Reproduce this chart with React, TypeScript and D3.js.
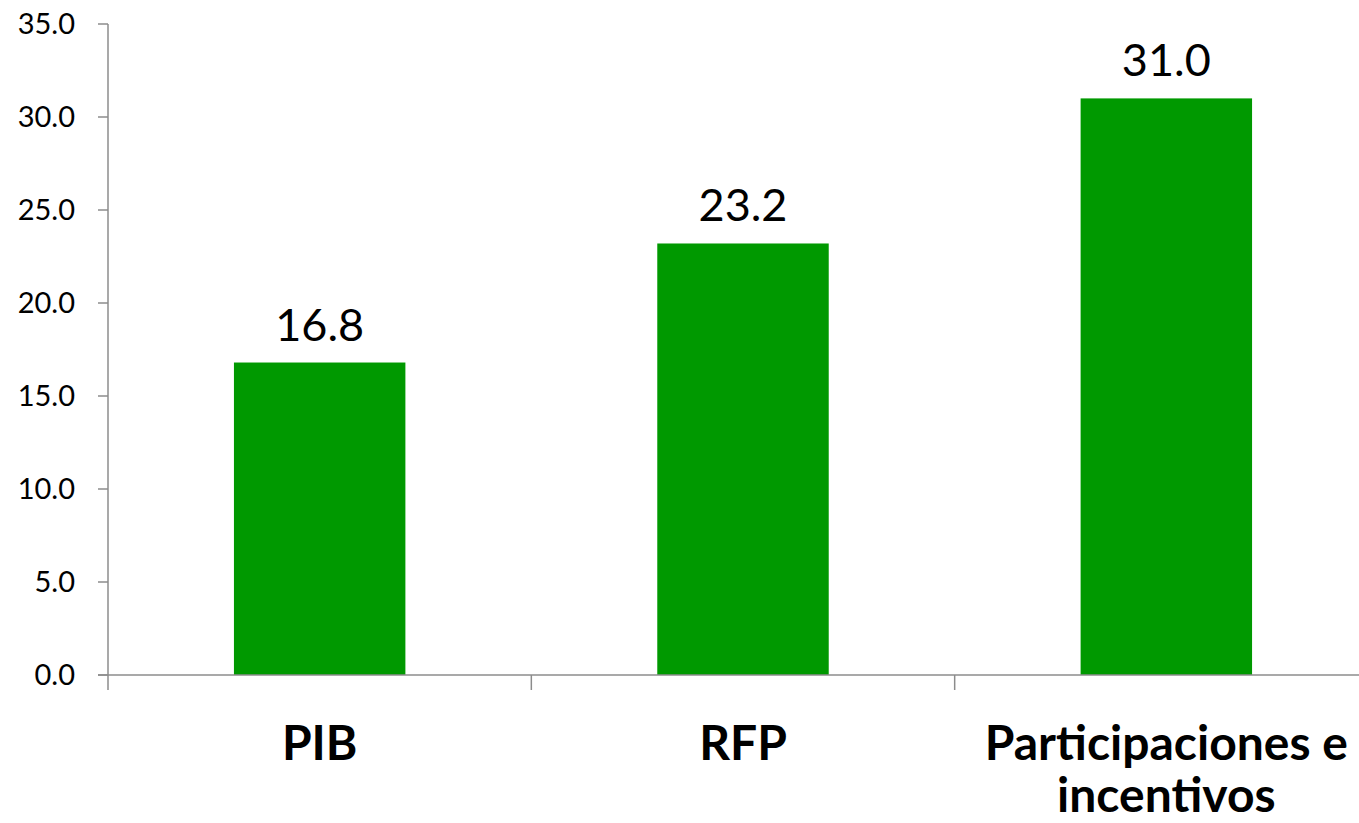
import React from "react";
import * as d3 from "d3";

const categories = ["PIB", "RFP", "Participaciones e incentivos"];
const categoryLines = [["PIB"], ["RFP"], ["Participaciones e", "incentivos"]];
const values = [16.8, 23.2, 31.0];
const yTicks = [0, 5, 10, 15, 20, 25, 30, 35];

const W = 1359;
const H = 823;
const FONT = "Lato, 'Open Sans', sans-serif";
const AXIS = "#8c8c8c";
const BAR = "#009900";

export default function App() {
  const x = d3.scaleBand<string>().domain(categories).range([108, 1378]).padding(0);
  const y = d3.scaleLinear().domain([0, 35]).range([675, 24]);
  const barW = x.bandwidth() * 0.405;
  const fmt = d3.format(".1f");

  return (
    <svg
      width={W}
      height={H}
      style={{ position: "absolute", left: 0, top: 0, background: "#fff" }}
      fontFamily={FONT}
    >
      {categories.map((c, i) => {
        const cx = (x(c) as number) + x.bandwidth() / 2;
        return (
          <g key={c}>
            <rect
              x={cx - barW / 2}
              y={y(values[i])}
              width={barW}
              height={y(0) - y(values[i])}
              fill={BAR}
            />
            <text
              x={cx}
              y={y(values[i]) - 22}
              textAnchor="middle"
              fontSize={45}
              fill="#000"
            >
              {fmt(values[i])}
            </text>
            {categoryLines[i].map((line, j) => (
              <text
                key={j}
                x={cx}
                y={760 + j * 52}
                textAnchor="middle"
                fontSize={48}
                fontWeight="bold"
                fill="#000"
              >
                {line}
              </text>
            ))}
          </g>
        );
      })}

      <line x1={108} x2={108} y1={y(35)} y2={y(0)} stroke={AXIS} strokeWidth={1.5} />
      {yTicks.map((t) => (
        <g key={t}>
          <line x1={98} x2={108} y1={y(t)} y2={y(t)} stroke={AXIS} strokeWidth={1.5} />
          <text
            x={75}
            y={y(t)}
            dy="0.35em"
            textAnchor="end"
            fontSize={29}
            fill="#000"
          >
            {fmt(t)}
          </text>
        </g>
      ))}

      <line x1={98} x2={1378} y1={y(0)} y2={y(0)} stroke={AXIS} strokeWidth={1.5} />
      {categories.map((c) => (
        <line
          key={c}
          x1={x(c) as number}
          x2={x(c) as number}
          y1={y(0)}
          y2={y(0) + 15}
          stroke={AXIS}
          strokeWidth={1.5}
        />
      ))}
    </svg>
  );
}
